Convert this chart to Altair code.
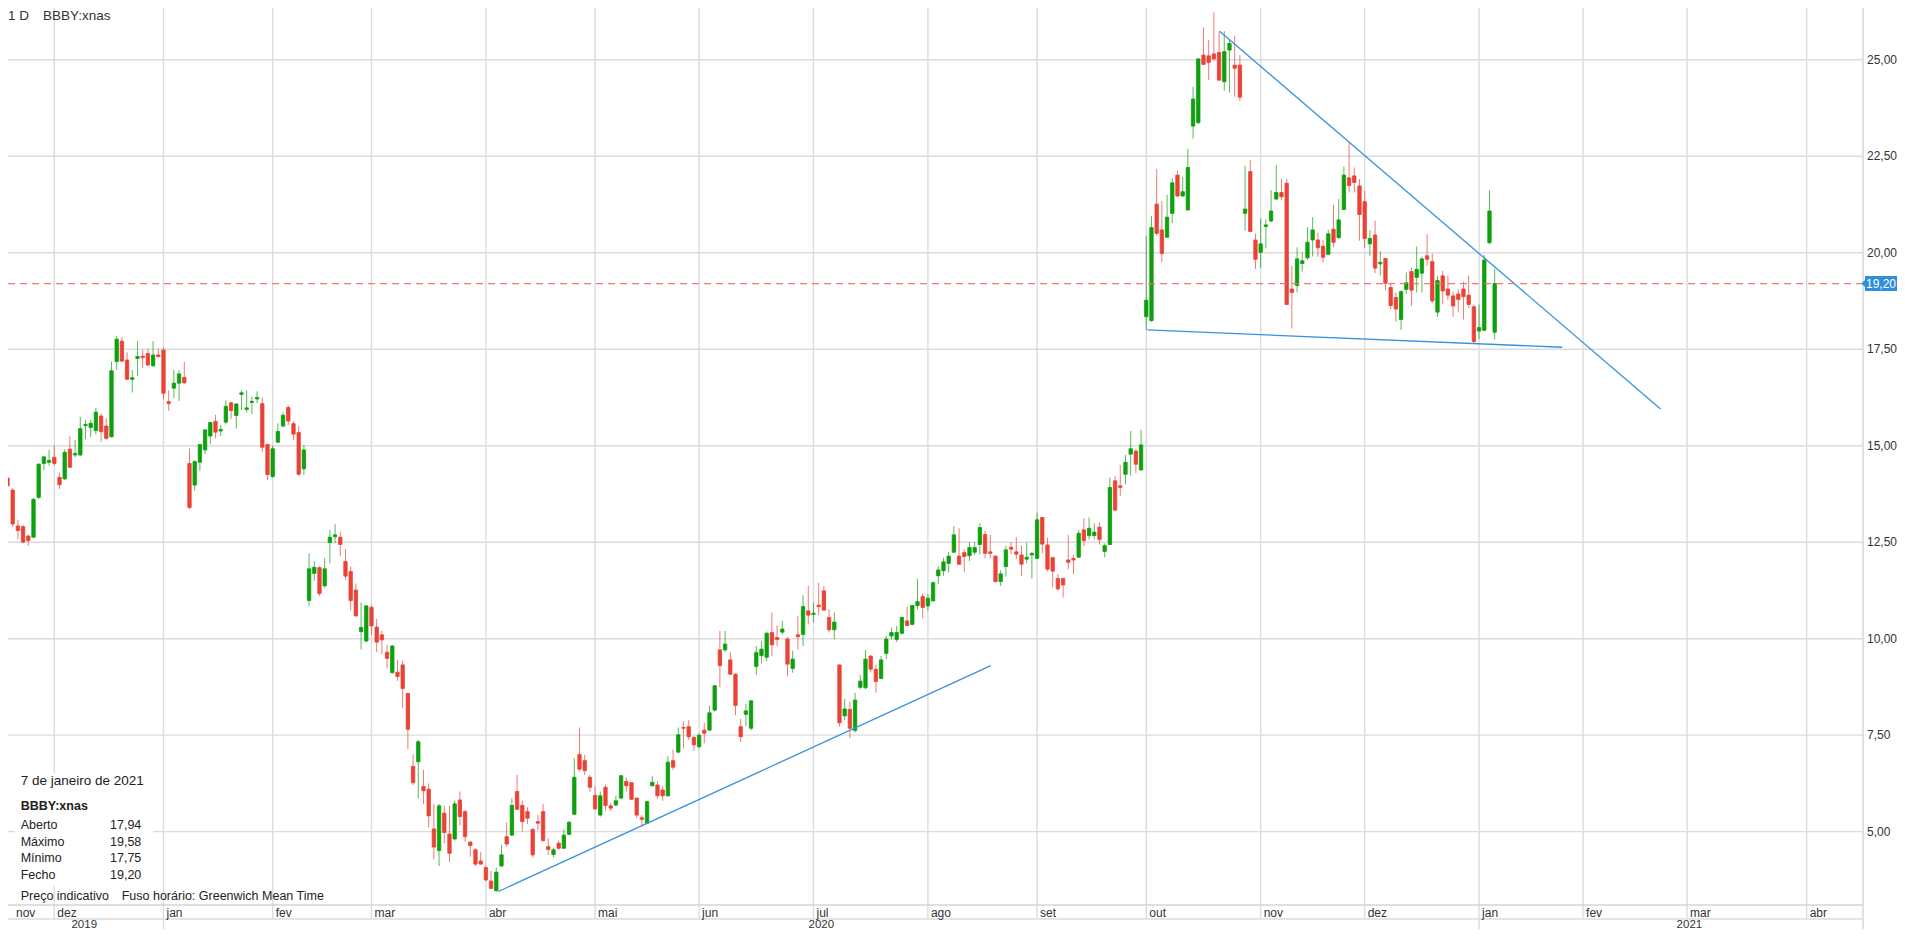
import altair as alt
import pandas as pd
import numpy as np

# ---------------- data ----------------
FIRST_SESSION = "2019-11-15"
LAST_SESSION = "2021-01-07"
AXIS_END = "2021-04-30"
ANCHOR_SESSION = "2020-01-02"
HOLIDAYS = ["2019-11-28", "2019-12-25", "2020-01-01", "2020-01-20", "2020-02-17",
            "2020-04-10", "2020-05-25", "2020-07-03", "2020-09-07", "2020-11-26",
            "2020-12-25", "2021-01-01"]

# one value per session, 2019-11-15 ... 2021-01-07
OPEN = [13.98, 14.16, 13.85, 12.92, 12.90, 12.66, 12.63, 13.66, 14.54, 14.57,
        14.70, 14.18, 14.14, 14.91, 14.76, 14.76, 15.52, 15.47, 15.39, 15.77, 15.51, 15.23, 17.18, 17.71, 17.22, 16.72, 17.26, 17.32, 17.39, 17.07, 17.35,
        17.48, 16.14, 16.49, 16.62, 16.77, 14.54, 13.98, 14.57, 14.89, 15.25, 15.63, 15.38, 15.61, 16.11, 15.78, 16.33, 15.94, 16.12, 16.21, 16.09, 15.03,
        14.20, 15.09, 15.51, 15.99, 15.57, 15.34, 14.40, 10.99, 11.69, 11.84, 11.37, 12.49, 12.64, 12.63, 12.00, 11.74, 11.26, 10.18, 9.94,
        10.81, 10.30, 10.10, 9.65, 9.12, 9.13, 9.32, 8.58, 6.69, 6.81, 6.17, 6.10, 5.07, 4.51, 5.48, 4.94, 4.81, 5.82, 5.52, 4.73, 4.53, 4.24,
        4.07, 3.72, 3.47, 4.11, 4.87, 4.91, 6.04, 5.68, 5.52, 5.06, 5.26, 5.52, 4.61, 4.41, 4.70, 4.57, 4.93, 5.45, 7.00, 6.84, 6.41,
        5.94, 5.43, 6.15, 5.67, 5.69, 5.87, 6.30, 6.27, 5.87, 5.36, 5.22, 6.19, 6.21, 6.08, 5.93, 6.84, 7.06, 7.70, 7.72, 7.44,
        7.20, 7.63, 7.63, 8.15, 9.71, 9.71, 9.45, 9.08, 7.72, 8.04, 7.68, 9.28, 9.56, 9.52, 10.16, 10.03, 10.17, 9.99, 9.23, 10.10, 10.11, 10.72,
        10.63, 10.87, 11.24, 10.55, 10.23, 9.32, 8.00, 8.17, 7.62, 8.74, 8.73, 9.55, 9.21, 8.97, 9.62, 10.07, 9.98, 10.14, 10.46, 10.37, 10.86, 11.09,
        10.85, 10.98, 11.63, 11.76, 11.95, 12.24, 12.14, 12.23, 12.15, 12.24, 12.44, 12.70, 12.25, 12.14, 11.48, 11.87, 12.37, 12.25, 12.17, 12.06, 12.17,
        12.08, 13.14, 12.43, 12.10, 11.56, 11.56, 12.04, 12.08, 12.11, 12.82, 12.67, 12.67, 12.89, 12.26, 12.44, 14.09, 13.96, 14.26, 14.78, 14.86, 14.37,
        18.34, 18.24, 21.26, 20.59, 20.40, 21.02, 22.01, 21.47, 21.11, 23.28, 23.37, 25.12, 25.10, 25.15, 25.19, 24.43, 25.25, 24.86, 24.86, 21.02, 22.10, 20.33,
        20.01, 20.68, 20.82, 21.39, 21.56, 21.80, 19.06, 19.15, 19.72, 19.87, 20.33, 20.33, 20.17, 19.96, 20.61, 20.39, 21.12, 21.94, 21.99, 21.73,
        21.32, 20.23, 20.46, 19.71, 19.85, 19.10, 18.84, 18.27, 19.05, 19.51, 19.36, 19.47, 19.92, 19.77, 18.46, 19.40, 19.06, 18.88, 18.93, 19.06, 18.90, 18.60,
        17.97, 17.99, 20.26, 17.94]
HIGH = [14.33, 14.28, 13.90, 13.08, 12.95, 12.70, 13.65, 14.55, 14.73, 14.89,
        15.00, 14.30, 14.91, 15.25, 15.15, 15.75, 15.67, 15.67, 15.97, 15.84, 15.71, 17.18, 17.84, 17.81, 17.42, 16.96, 17.71, 17.48, 17.51, 17.71, 17.51,
        17.55, 16.43, 16.96, 16.96, 17.17, 14.93, 14.62, 15.04, 15.42, 15.62, 15.80, 15.54, 16.18, 16.14, 16.10, 16.44, 16.43, 16.27, 16.41, 16.25, 15.04,
        15.00, 15.58, 15.86, 16.05, 15.64, 15.51, 15.02, 12.21, 12.01, 11.87, 12.08, 12.82, 12.97, 12.77, 12.32, 11.87, 11.43, 10.94, 10.87,
        10.87, 10.51, 10.20, 9.84, 9.84, 9.45, 9.43, 8.60, 7.00, 7.38, 6.60, 6.25, 5.72, 5.72, 5.67, 5.67, 5.80, 6.04, 5.56, 4.76, 4.57, 4.47,
        4.12, 3.98, 4.07, 4.66, 5.24, 5.87, 6.47, 5.80, 5.63, 5.09, 5.43, 5.72, 4.83, 4.59, 4.77, 5.06, 5.28, 6.90, 7.70, 6.99, 6.47,
        6.17, 6.04, 6.22, 5.75, 5.93, 6.47, 6.41, 6.28, 5.88, 5.43, 5.80, 6.44, 6.31, 6.19, 6.96, 7.13, 7.70, 7.85, 7.89, 7.48,
        7.55, 7.82, 8.26, 8.80, 10.20, 10.20, 9.65, 9.10, 7.92, 8.31, 8.41, 9.81, 9.94, 10.18, 10.68, 10.34, 10.46, 10.05, 9.69, 10.59, 11.13, 11.37,
        10.94, 11.45, 11.37, 10.76, 10.68, 9.33, 8.44, 8.37, 8.60, 9.06, 9.71, 9.58, 9.32, 9.55, 10.07, 10.29, 10.33, 10.57, 10.83, 10.87, 11.55, 11.17,
        11.15, 11.48, 11.88, 12.10, 12.25, 12.92, 12.86, 12.31, 12.50, 12.50, 12.99, 12.79, 12.69, 12.15, 11.78, 12.41, 12.50, 12.63, 12.41, 12.49, 12.25,
        13.27, 13.15, 12.62, 12.11, 11.68, 11.57, 12.69, 12.17, 12.82, 13.12, 13.14, 12.99, 13.02, 12.47, 14.18, 14.22, 14.50, 14.76, 15.38, 14.91, 15.41,
        20.43, 20.95, 22.17, 21.34, 21.50, 21.93, 22.12, 21.97, 22.69, 24.30, 25.04, 25.84, 25.51, 26.23, 25.73, 25.74, 25.53, 25.62, 25.12, 22.25, 22.40, 20.50,
        20.89, 20.87, 21.62, 22.27, 21.91, 21.91, 19.66, 20.14, 20.01, 20.66, 20.92, 20.52, 20.33, 20.59, 21.24, 21.39, 22.23, 22.86, 22.21, 21.91,
        21.60, 20.59, 20.83, 20.04, 19.86, 19.21, 18.97, 19.03, 19.49, 19.61, 20.16, 19.90, 20.48, 19.97, 19.40, 19.53, 19.41, 18.99, 19.05, 19.25, 19.41, 18.65,
        18.66, 19.94, 21.62, 19.58]
LOW = [13.72, 13.90, 12.90, 12.58, 12.47, 12.40, 12.60, 13.62, 14.37, 14.48,
       14.48, 13.88, 14.11, 14.42, 14.70, 14.73, 15.17, 15.22, 15.30, 15.10, 15.15, 15.22, 16.96, 17.18, 16.70, 16.38, 16.81, 17.02, 17.07, 17.05, 17.26,
       16.20, 15.90, 16.24, 16.16, 16.59, 13.35, 13.83, 14.35, 14.78, 15.04, 15.19, 15.25, 15.55, 15.69, 15.44, 15.92, 15.86, 15.82, 16.10, 14.83, 14.11,
       14.17, 15.08, 15.47, 15.54, 15.15, 14.22, 14.24, 10.85, 11.50, 11.11, 11.32, 11.95, 12.47, 12.14, 11.52, 10.73, 10.57, 9.72, 9.90,
       10.10, 9.65, 9.60, 9.23, 9.09, 8.91, 8.20, 7.14, 6.21, 5.86, 5.71, 5.11, 4.28, 4.11, 4.70, 4.21, 4.77, 5.16, 4.73, 4.35, 4.11, 4.14,
       3.71, 3.52, 3.45, 4.09, 4.61, 4.89, 5.56, 5.00, 5.20, 4.34, 5.04, 4.74, 4.40, 4.34, 4.53, 4.55, 4.91, 5.43, 6.56, 6.47, 6.04,
       5.56, 5.39, 5.54, 5.54, 5.65, 5.84, 6.04, 5.82, 5.35, 5.13, 5.20, 6.17, 5.85, 5.80, 5.91, 6.60, 7.03, 7.16, 7.38, 7.09,
       7.16, 7.29, 7.61, 8.11, 8.74, 9.65, 9.06, 8.02, 7.32, 7.74, 7.63, 9.06, 9.36, 9.42, 9.55, 9.81, 10.11, 9.03, 9.12, 9.72, 9.81, 10.37,
       10.42, 10.61, 10.73, 10.16, 9.98, 7.72, 7.89, 7.42, 7.57, 8.69, 8.69, 9.12, 8.60, 8.96, 9.47, 9.97, 9.91, 10.11, 10.33, 10.35, 10.76, 10.53,
       10.72, 10.96, 11.41, 11.63, 11.72, 12.23, 11.91, 11.72, 12.01, 12.17, 12.18, 12.08, 12.08, 11.45, 11.37, 11.61, 12.19, 12.06, 11.63, 11.95, 11.56,
       12.06, 12.21, 11.75, 11.33, 11.24, 11.07, 11.80, 11.68, 12.10, 12.40, 12.57, 12.57, 12.44, 12.11, 12.43, 13.32, 13.70, 14.00, 14.22, 14.29, 14.35,
       18.00, 18.21, 20.44, 19.75, 20.39, 20.76, 21.44, 21.45, 21.08, 22.96, 23.33, 24.86, 24.47, 24.97, 24.46, 24.20, 24.15, 24.04, 23.93, 20.57, 20.53, 19.58,
       19.61, 20.11, 20.79, 21.37, 21.37, 18.65, 18.04, 18.97, 19.51, 19.81, 19.90, 19.90, 19.75, 19.94, 20.14, 20.36, 21.11, 21.56, 21.56, 20.31,
       20.13, 19.92, 19.47, 19.41, 19.03, 18.54, 18.21, 18.00, 18.93, 18.63, 18.97, 18.97, 19.66, 18.69, 18.34, 18.66, 18.77, 18.34, 18.46, 18.27, 18.56, 17.65,
       17.76, 17.97, 20.22, 17.75]
CLOSE = [14.27, 13.96, 12.97, 12.80, 12.50, 12.54, 13.61, 14.52, 14.71, 14.62,
         14.54, 13.99, 14.83, 14.44, 14.80, 15.44, 15.55, 15.58, 15.87, 15.36, 15.19, 16.94, 17.76, 17.19, 16.72, 16.76, 17.31, 17.28, 17.09, 17.35, 17.31,
         16.36, 16.09, 16.62, 16.86, 16.63, 13.40, 14.59, 15.03, 15.41, 15.60, 15.35, 15.42, 16.02, 15.91, 16.08, 16.37, 15.98, 16.15, 16.25, 14.96, 14.25,
         14.92, 15.37, 15.79, 15.64, 15.30, 14.26, 14.89, 11.81, 11.85, 11.17, 11.81, 12.63, 12.69, 12.44, 11.62, 10.99, 10.59, 10.29, 10.85,
         10.33, 9.91, 9.97, 9.49, 9.81, 9.02, 8.71, 7.65, 6.27, 7.33, 6.06, 5.41, 4.60, 5.67, 4.98, 4.44, 5.72, 5.39, 4.87, 4.64, 4.16, 4.16,
         3.75, 3.53, 3.95, 4.40, 4.68, 5.68, 5.58, 5.26, 5.35, 4.40, 5.22, 4.77, 4.54, 4.53, 4.57, 4.91, 5.24, 6.41, 6.62, 6.58, 6.15,
         5.59, 5.93, 5.68, 5.61, 5.80, 6.45, 6.19, 5.84, 5.43, 5.32, 5.78, 6.28, 5.93, 5.93, 6.80, 6.67, 7.51, 7.68, 7.46, 7.25,
         7.50, 7.55, 8.08, 8.78, 9.30, 9.86, 9.08, 8.27, 7.46, 8.13, 8.39, 9.64, 9.73, 10.14, 9.84, 9.98, 10.25, 9.34, 9.47, 10.05, 10.83, 10.61,
         10.66, 10.83, 10.74, 10.23, 10.43, 7.82, 8.18, 7.68, 8.41, 8.90, 9.47, 9.21, 8.89, 9.45, 9.99, 10.16, 10.16, 10.55, 10.34, 10.86, 10.96, 10.81,
         11.05, 11.45, 11.78, 11.99, 12.14, 12.69, 11.93, 12.13, 12.36, 12.36, 12.88, 12.21, 12.21, 11.48, 11.68, 12.30, 12.32, 12.19, 11.93, 12.11, 12.21,
         13.08, 12.45, 11.80, 11.75, 11.29, 11.39, 11.98, 12.04, 12.73, 12.54, 12.86, 12.76, 12.57, 12.41, 13.92, 13.33, 13.92, 14.57, 14.92, 14.52, 15.02,
         18.77, 20.65, 20.50, 19.98, 20.92, 21.81, 21.47, 21.58, 22.21, 23.98, 25.02, 24.88, 24.93, 25.02, 24.47, 25.21, 25.42, 24.78, 24.03, 21.13, 20.55, 19.83,
         20.23, 20.72, 21.08, 21.56, 21.45, 18.66, 18.97, 19.84, 19.79, 20.27, 20.59, 20.13, 19.88, 20.49, 20.27, 20.85, 22.01, 21.74, 21.82, 20.99,
         20.37, 20.37, 19.60, 19.75, 19.21, 18.63, 18.54, 18.99, 19.22, 19.03, 19.57, 19.84, 19.83, 18.75, 19.28, 19.01, 18.90, 18.62, 18.79, 18.86, 18.66, 17.70,
         18.06, 19.81, 21.08, 19.20]

MONTH_NAMES = ["jan", "fev", "mar", "abr", "mai", "jun", "jul", "ago", "set", "out", "nov", "dez"]
PRICE_TICKS = [5.0, 7.5, 10.0, 12.5, 15.0, 17.5, 20.0, 22.5, 25.0]
LAST_CLOSE = 19.20

# drawn trend lines (session index, price)
TREND_X1 = [64.4, 203.1, 189.2]
TREND_P1 = [3.45, 25.74, 18.00]
TREND_X2 = [159.1, 287.9, 269.0]
TREND_P2 = [9.30, 15.95, 17.55]

TITLE_INTERVAL = "1 D"
TITLE_SYMBOL = "BBBY:xnas"
INFO_DATE = "7 de janeiro de 2021"
INFO_SYMBOL = "BBBY:xnas"
INFO_LABELS = ["Aberto", "Máximo", "Mínimo", "Fecho"]
INFO_VALUES = ["17,94", "19,58", "17,75", "19,20"]
INFO_NOTE = "Preço indicativo"
INFO_TZ = "Fuso horário: Greenwich Mean Time"

# ---------------- layout ----------------
W, H = 1855, 897
X_LO, X_HI = -28.94, 325.87
VIEW_LO_REF, VIEW_HI_REF = -30.47, 333.9
Y_LO, Y_HI = 3.10, 26.34
FONT = "Liberation Sans"
UP, DOWN = "#0ea00e", "#ea4237"
GRID = "#dcdcdc"
TXT = "#333333"

# ---------------- calendar ----------------
hol = pd.to_datetime(HOLIDAYS)
sessions = pd.bdate_range(FIRST_SESSION, LAST_SESSION)
sessions = sessions[~sessions.isin(hol)]
anchor = sessions.get_loc(pd.Timestamp(ANCHOR_SESSION))
future = pd.bdate_range(LAST_SESSION, AXIS_END)[1:]
all_days = sessions.append(future)
cal = pd.DataFrame({"d": all_days, "i": np.arange(len(all_days)) - anchor})
cal["ym"] = cal["d"].dt.to_period("M")
firsts = cal.groupby("ym").first().reset_index()
firsts["label"] = firsts["d"].dt.month.map(lambda m: MONTH_NAMES[m - 1])
firsts["lx"] = firsts["i"].clip(lower=X_LO)
firsts = firsts[["i", "lx", "label", "d"]]
grid_x = firsts[firsts["i"] > X_LO][["i"]]

cal["y"] = cal["d"].dt.year
years = []
for yv in sorted(cal["y"].unique()):
    sub = cal[cal["y"] == yv]["i"]
    nxt = cal[cal["y"] == yv + 1]["i"]
    lo = max(sub.min(), VIEW_LO_REF)
    hi = min(nxt.min() if len(nxt) else VIEW_HI_REF, VIEW_HI_REF)
    years.append({"label": str(yv), "c": float((lo + hi) / 2)})
years = pd.DataFrame(years)
year_sep = firsts[(firsts["d"].dt.month == 1) & (firsts["i"] > X_LO)][["i"]]
month_tab = firsts[["lx", "label"]]

candles = pd.DataFrame({"i": np.arange(len(sessions)) - anchor,
                        "o": OPEN, "h": HIGH, "l": LOW, "c": CLOSE})
candles["dir"] = np.where(candles["c"] >= candles["o"], "up", "down")

ticks = pd.DataFrame({"p": PRICE_TICKS})
ticks["t"] = ticks["p"].map(lambda v: f"{v:.2f}".replace(".", ","))
trend = pd.DataFrame({"x1": TREND_X1, "p1": TREND_P1, "x2": TREND_X2, "p2": TREND_P2})
last = pd.DataFrame({"p": [LAST_CLOSE], "t": [f"{LAST_CLOSE:.2f}".replace(".", ",")]})

xs = alt.Scale(domain=[X_LO, X_HI], nice=False, zero=False)
yscale = alt.Scale(domain=[Y_LO, Y_HI], nice=False, zero=False)
cscale = alt.Scale(domain=["up", "down"], range=[UP, DOWN])


def X(f):
    return alt.X(f, type="quantitative", scale=xs, axis=None)


def Y(f):
    return alt.Y(f, type="quantitative", scale=yscale, axis=None)


one = pd.DataFrame({"k": [0]})
BOT = 24

hgrid = alt.Chart(ticks).mark_rule(color=GRID, strokeWidth=1.4).encode(
    y=Y("p"), x=alt.value(0), x2=alt.value(W))
vgrid = alt.Chart(grid_x).mark_rule(color=GRID, strokeWidth=1.4).encode(
    x=X("i"), y=alt.value(0), y2=alt.value(H + 14))
ysep = alt.Chart(year_sep).mark_rule(color=GRID, strokeWidth=1.4).encode(
    x=X("i"), y=alt.value(H + 14), y2=alt.value(H + BOT))
frame1 = alt.Chart(one).mark_rule(color="#d4d4d4", strokeWidth=1.4).encode(
    y=alt.value(H), x=alt.value(0), x2=alt.value(W))
frame2 = alt.Chart(one).mark_rule(color=GRID, strokeWidth=1.4).encode(
    y=alt.value(H + 14), x=alt.value(0), x2=alt.value(W))
right_axis = alt.Chart(one).mark_rule(color="#d4d4d4", strokeWidth=1.4).encode(
    x=alt.value(W), y=alt.value(0), y2=alt.value(H + BOT))

lastline = alt.Chart(last).mark_rule(color="#ef6a62", strokeWidth=1.3, strokeDash=[7, 5], opacity=0.9).encode(
    y=Y("p"), x=alt.value(0), x2=alt.value(W))

wicks = alt.Chart(candles).mark_rule(clip=True, strokeWidth=1, opacity=0.7).encode(
    x=X("i"), y=Y("l"), y2=alt.Y2("h"),
    color=alt.Color("dir:N", scale=cscale, legend=None))
bodies = alt.Chart(candles).mark_bar(clip=True, size=3.4, strokeWidth=0.8).encode(
    x=X("i"), y=Y("o"), y2=alt.Y2("c"),
    color=alt.Color("dir:N", scale=cscale, legend=None),
    stroke=alt.Stroke("dir:N", scale=cscale, legend=None))

trends = alt.Chart(trend).mark_rule(clip=True, color="#3592e0", strokeWidth=1.3).encode(
    x=X("x1"), y=Y("p1"), x2=alt.X2("x2"), y2=alt.Y2("p2"))

price_labels = alt.Chart(ticks).mark_text(align="left", baseline="middle", font=FONT, fontSize=12, color=TXT).encode(
    y=Y("p"), x=alt.value(W + 4), text="t:N")

badge_path = "M -1.22 0 L -1 -0.22 L -1 -0.47 L 1 -0.47 L 1 0.47 L -1 0.47 L -1 0.22 Z"
badge = alt.Chart(last).mark_point(shape=badge_path, filled=True, size=1024, color="#2f8fdc", opacity=1).encode(
    y=Y("p"), x=alt.value(W + 18))
badge_text = alt.Chart(last).mark_text(align="center", baseline="middle", font=FONT, fontSize=12, color="white").encode(
    y=Y("p"), x=alt.value(W + 18), text="t:N")

month_labels = alt.Chart(month_tab).mark_text(align="left", baseline="alphabetic", dx=3, font=FONT, fontSize=12, color=TXT).encode(
    x=X("lx"), y=alt.value(H + 11.5), text="label:N")
year_labels = alt.Chart(years).mark_text(align="center", baseline="alphabetic", font=FONT, fontSize=11.5, color=TXT).encode(
    x=X("c"), y=alt.value(H + 23), text="label:N")

title1 = alt.Chart(pd.DataFrame({"t": [TITLE_INTERVAL]})).mark_text(
    align="left", baseline="middle", font=FONT, fontSize=13.5, color=TXT).encode(
    x=alt.value(0), y=alt.value(8), text="t:N")
title2 = alt.Chart(pd.DataFrame({"t": [TITLE_SYMBOL]})).mark_text(
    align="left", baseline="middle", font=FONT, fontSize=13.5, color=TXT).encode(
    x=alt.value(35), y=alt.value(8), text="t:N")

info_bg = alt.Chart(one).mark_rect(color="white").encode(
    x=alt.value(7), x2=alt.value(145), y=alt.value(765), y2=alt.value(878))
info_date = alt.Chart(pd.DataFrame({"t": [INFO_DATE]})).mark_text(
    align="left", baseline="middle", font=FONT, fontSize=13.5, color="#222").encode(
    x=alt.value(12.7), y=alt.value(773), text="t:N")
info_sym = alt.Chart(pd.DataFrame({"t": [INFO_SYMBOL]})).mark_text(
    align="left", baseline="middle", font=FONT, fontSize=12.5, fontWeight="bold", color="#222").encode(
    x=alt.value(12.7), y=alt.value(797.7), text="t:N")
rows = pd.DataFrame({"lab": INFO_LABELS, "val": INFO_VALUES, "r": list(range(len(INFO_LABELS)))})
row_scale = alt.Scale(domain=[0, 3], range=[816.7, 867.3])
info_lab = alt.Chart(rows).mark_text(align="left", baseline="middle", font=FONT, fontSize=12.5, color="#222").encode(
    x=alt.value(12.7), y=alt.Y("r:Q", scale=row_scale, axis=None), text="lab:N")
info_val = alt.Chart(rows).mark_text(align="left", baseline="middle", font=FONT, fontSize=12.5, color="#222").encode(
    x=alt.value(102), y=alt.Y("r:Q", scale=row_scale, axis=None), text="val:N")
info_note = alt.Chart(pd.DataFrame({"t": [INFO_NOTE]})).mark_text(
    align="left", baseline="middle", font=FONT, fontSize=12.5, color="#222").encode(
    x=alt.value(12.7), y=alt.value(888.3), text="t:N")
info_tz = alt.Chart(pd.DataFrame({"t": [INFO_TZ]})).mark_text(
    align="left", baseline="middle", font=FONT, fontSize=12.5, color="#222").encode(
    x=alt.value(113.7), y=alt.value(888.3), text="t:N")

chart = alt.layer(
    hgrid, vgrid, ysep, frame1, frame2, right_axis,
    wicks, bodies, trends, lastline,
    info_bg, info_date, info_sym, info_lab, info_val, info_note, info_tz,
    price_labels, badge, badge_text, month_labels, year_labels, title1, title2,
).resolve_scale(y="independent").properties(
    width=W, height=H,
    padding={"left": 0, "top": 0, "right": 34, "bottom": BOT},
    autosize=alt.AutoSizeParams(type="none"),
    background="white",
).configure_view(stroke=None)

chart.save("out.html", embed_options={"renderer": "svg", "actions": False})
